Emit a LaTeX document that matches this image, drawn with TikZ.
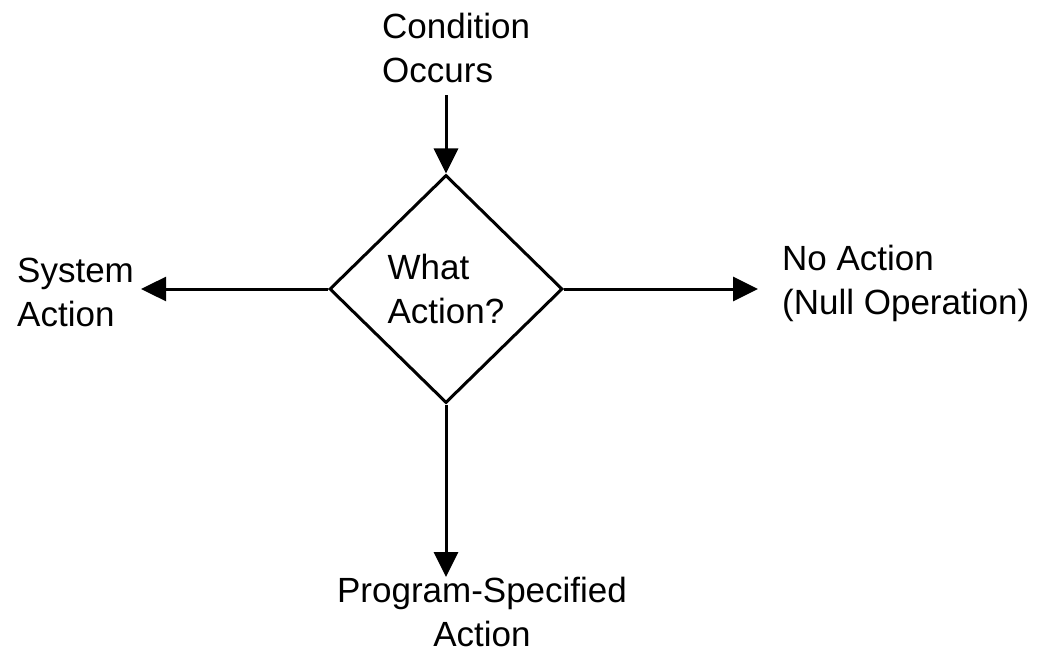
\documentclass[tikz,border=0pt]{standalone}
\usepackage{fontspec}
\setmainfont{Liberation Sans}
\usetikzlibrary{shapes.geometric,arrows.meta}
\begin{document}
\begin{tikzpicture}[x=1pt,y=-1pt,
  lbl/.style={inner sep=0, align=left, font=\fontsize{35}{44}\selectfont},
  flow/.style={line width=3pt, -{Triangle[length=25pt,width=24pt]}}]
\useasboundingbox (0,0) rectangle (1044,647);
% decision
\node[diamond, draw, line width=3pt, minimum width=233pt, minimum height=228pt, inner sep=0, align=left, font=\fontsize{35}{44}\selectfont] (act) at (446,289) {What\\Action?};
% outcomes
\node[lbl, anchor=north west] (cond) at (382,13) {Condition\\Occurs};
\node[lbl, anchor=north west] (sys) at (17,258) {System\\Action};
\node[lbl, anchor=north west] (noact) at (782,245) {No Action\\(Null Operation)};
\node[lbl, align=center, anchor=north] (prog) at (482,577) {Program-Specified\\Action};

\draw[flow, shorten <=12pt] (cond.south -| act.north) -- (act.north);
\draw[flow, shorten >=7pt] (act.west) -- (act.west -| sys.east);
\draw[flow, shorten >=24pt] (act.east) -- (act.east -| noact.west);
\draw[flow] (act.south) -- (act.south |- prog.north);

\end{tikzpicture}
\end{document}
